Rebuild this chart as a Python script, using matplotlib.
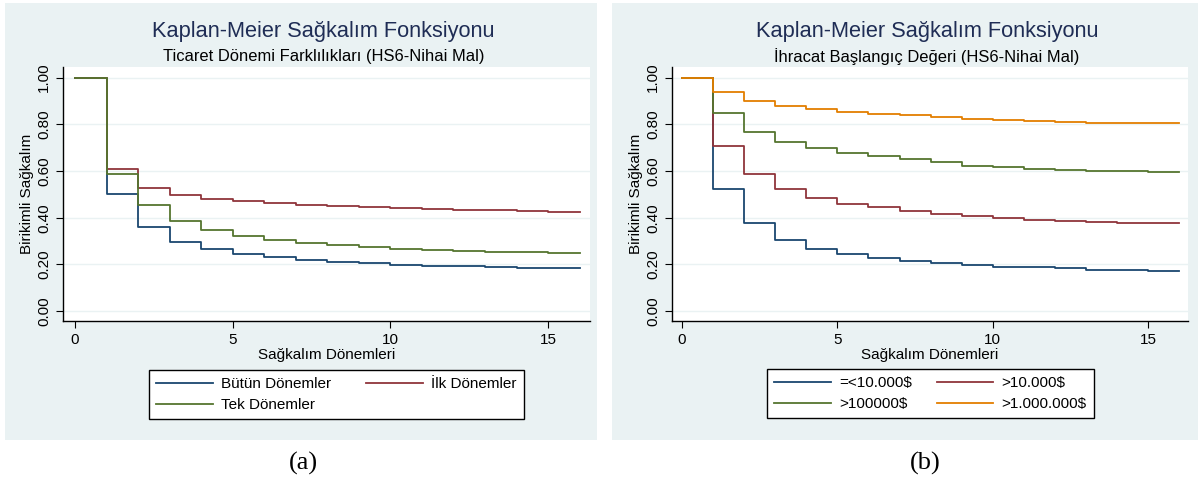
import matplotlib
matplotlib.use("Agg")
import matplotlib.pyplot as plt
from matplotlib.patches import Rectangle

plt.rcParams['font.family'] = ['Liberation Sans', 'DejaVu Sans']

# survival periods (step edges)
periods = list(range(0, 17))

# panel (a): trade period differences
all_periods = [1.0, 0.500, 0.360, 0.297, 0.265, 0.246, 0.231, 0.221, 0.212,
               0.205, 0.199, 0.195, 0.192, 0.188, 0.185, 0.184]
first_periods = [1.0, 0.609, 0.529, 0.499, 0.481, 0.470, 0.461, 0.455, 0.450,
                 0.444, 0.441, 0.437, 0.434, 0.431, 0.427, 0.424]
single_periods = [1.0, 0.589, 0.453, 0.384, 0.347, 0.323, 0.305, 0.293, 0.283,
                  0.275, 0.268, 0.262, 0.258, 0.255, 0.252, 0.251]

# panel (b): initial export value
low_value = [1.0, 0.522, 0.376, 0.305, 0.268, 0.243, 0.226, 0.214, 0.206,
             0.197, 0.191, 0.187, 0.183, 0.178, 0.176, 0.174]
mid_value = [1.0, 0.708, 0.589, 0.525, 0.486, 0.460, 0.445, 0.429, 0.416,
             0.406, 0.397, 0.390, 0.386, 0.381, 0.378, 0.376]
high_value = [1.0, 0.848, 0.766, 0.723, 0.698, 0.675, 0.664, 0.651, 0.637,
              0.623, 0.616, 0.609, 0.606, 0.602, 0.599, 0.596]
top_value = [1.0, 0.936, 0.899, 0.878, 0.864, 0.852, 0.844, 0.838, 0.831,
             0.823, 0.818, 0.813, 0.809, 0.806, 0.806, 0.804]

labels_a = ["Bütün Dönemler", "İlk Dönemler", "Tek Dönemler"]
labels_b = ["=<10.000$", ">10.000$", ">100000$", ">1.000.000$"]
subtitle_a = "Ticaret Dönemi Farklılıkları (HS6-Nihai Mal)"
subtitle_b = "İhracat Başlangıç Değeri (HS6-Nihai Mal)"
title = "Kaplan-Meier Sağkalım Fonksiyonu"
yticks = [0.0, 0.2, 0.4, 0.6, 0.8, 1.0]
xticks = [0, 5, 10, 15]

navy = "#1a476f"
maroon = "#90353b"
green = "#55752f"
orange = "#e37e00"
bg = "#eaf2f3"

W, H = 1200, 484
fig = plt.figure(figsize=(W / 100, H / 100), dpi=100)
fig.patch.set_facecolor("white")


def fx(px):
    return px / W


def fy(py):
    return 1 - py / H


# panel backgrounds
fig.add_artist(Rectangle((fx(5), fy(440)), fx(592), 437 / H, transform=fig.transFigure,
                         facecolor=bg, edgecolor="none", zorder=0))
fig.add_artist(Rectangle((fx(612), fy(440)), fx(586), 437 / H, transform=fig.transFigure,
                         facecolor=bg, edgecolor="none", zorder=0))


def make_panel(left, right, xlim, series, colors, labels, order, subtitle,
               leg_center, colspace, caption, caption_x):
    ax = fig.add_axes([fx(left), fy(321), fx(right - left), (321 - 67) / H])
    ax.set_facecolor("white")
    for vals, c, lab in zip(series, colors, labels):
        ax.step(periods, vals + [vals[-1]], where="post", color=c, lw=1.3, label=lab)
    ax.set_xlim(*xlim)
    ax.set_ylim(-0.042, 1.045)
    ax.set_yticks(yticks)
    ax.set_yticklabels([f"{v:.2f}" for v in yticks], rotation=90, va="center")
    ax.set_xticks(xticks)
    ax.grid(axis="y", color=bg, lw=1)
    ax.set_axisbelow(True)
    for s in ["top", "right"]:
        ax.spines[s].set_visible(False)
    ax.spines["left"].set_linewidth(1)
    ax.spines["bottom"].set_linewidth(1)
    ax.tick_params(labelsize=11, length=5, width=0.8, colors="black")
    ax.set_ylabel("Birikimli Sağkalım", fontsize=11, labelpad=2)
    ax.set_xlabel("Sağkalım Dönemleri", fontsize=11, labelpad=1)
    cx = fx((left + right) / 2 - 3)
    fig.text(cx, fy(32), title, ha="center", va="center", fontsize=15.7, color="#1f2d55")
    fig.text(cx, fy(57), subtitle, ha="center", va="center", fontsize=11.9, color="black")
    handles, labs = ax.get_legend_handles_labels()
    h = [handles[i] for i in order]
    l = [labs[i] for i in order]
    leg = fig.legend(h, l, ncol=2, loc="center", fontsize=11,
                     bbox_to_anchor=(fx(leg_center[0]), fy(leg_center[1])),
                     bbox_transform=fig.transFigure, fancybox=False,
                     edgecolor="black", framealpha=1, handlelength=3.7,
                     handletextpad=0.55, columnspacing=colspace, labelspacing=0.45,
                     borderpad=0.45)
    leg.get_frame().set_linewidth(1)
    fig.text(fx(caption_x), fy(463), caption, ha="center", va="center", fontsize=19,
             family=["Liberation Serif", "DejaVu Serif"])
    return ax


make_panel(63, 590, (-0.38, 16.33),
           [all_periods, first_periods, single_periods],
           [navy, maroon, green], labels_a, [0, 2, 1], subtitle_a,
           (336.5, 394.5), 2.3, "(a)", 303)
make_panel(672, 1188, (-0.32, 16.28),
           [low_value, mid_value, high_value, top_value],
           [navy, maroon, green, orange], labels_b, [0, 2, 1, 3], subtitle_b,
           (930.5, 393.5), 1.6, "(b)", 925)

fig.savefig("out.png", dpi=100)
